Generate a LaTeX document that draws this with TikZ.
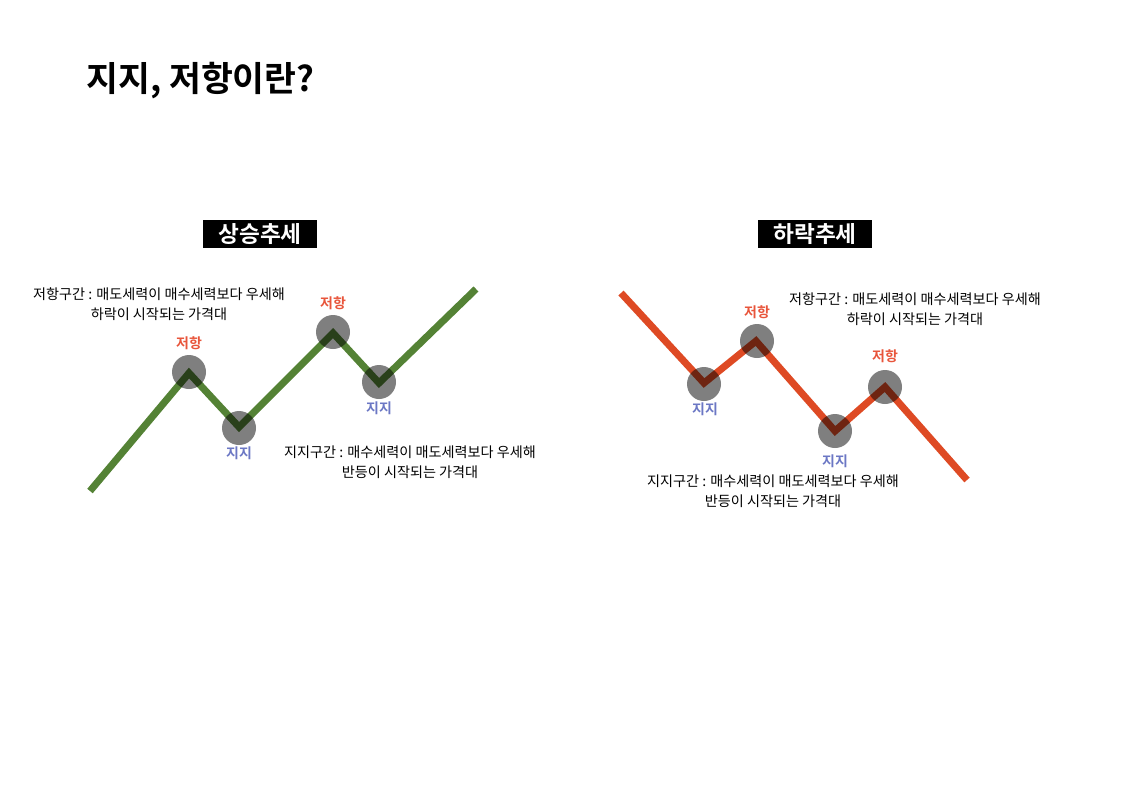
\documentclass[tikz,border=0pt]{standalone}
\usepackage{fontspec}
\setmainfont{Noto Sans CJK KR}
\newfontfamily\krbold{Noto Sans CJK KR Bold}
\definecolor{upgreen}{HTML}{548235}
\definecolor{downred}{HTML}{DE4A24}
\definecolor{reslbl}{HTML}{E8553B}
\definecolor{suplbl}{HTML}{6B77C4}
\begin{document}
\begin{tikzpicture}[x=0.75pt,y=-0.75pt,
  title/.style={font=\krbold\fontsize{26}{30}\selectfont, anchor=west, inner sep=0pt},
  trendbox/.style={fill=black, text=white, font=\krbold\fontsize{17}{20}\selectfont, minimum width=86pt, minimum height=21pt, inner sep=0pt},
  note/.style={font=\fontsize{10.6}{15}\selectfont, align=center, inner sep=0pt},
  pt/.style={circle, fill=black, fill opacity=0.5, minimum size=25.5pt, inner sep=0pt},
  reslabel/.style={font=\krbold\fontsize{10.5}{12}\selectfont, text=reslbl, inner sep=0pt},
  suplabel/.style={font=\krbold\fontsize{10.5}{12}\selectfont, text=suplbl, inner sep=0pt},
  trend/.style={line width=5.3pt, line join=miter}
]
\useasboundingbox (0,0) rectangle (1123,794);

\node[title] (ttl) at (86,81) {지지, 저항이란?};

% uptrend
\node[trendbox] (upbox) at (260,234) {상승추세};
\coordinate (u0) at (90,491);
\coordinate (u1) at (189,373);
\coordinate (u2) at (239,427);
\coordinate (u3) at (333,333);
\coordinate (u4) at (379,383);
\coordinate (u5) at (476,289);
\draw[trend, upgreen] (u0) -- (u1) -- (u2) -- (u3) -- (u4) -- (u5);
\node[pt] (uc1) at (189,372) {};
\node[pt] (uc2) at (239,428) {};
\node[pt] (uc3) at (333,332) {};
\node[pt] (uc4) at (379,382) {};
\node[reslabel] (ul1) at (189,343) {저항};
\node[suplabel] (ul2) at (239,453) {지지};
\node[reslabel] (ul3) at (333,303) {저항};
\node[suplabel] (ul4) at (379,408) {지지};
\node[note] (un1) at (159,304) {저항구간 : 매도세력이 매수세력보다 우세해\\하락이 시작되는 가격대};
\node[note] (un2) at (410,462) {지지구간 : 매수세력이 매도세력보다 우세해\\반등이 시작되는 가격대};

% downtrend
\node[trendbox] (dnbox) at (815,234) {하락추세};
\coordinate (d0) at (621,293);
\coordinate (d1) at (704,383);
\coordinate (d2) at (756,341);
\coordinate (d3) at (835,431);
\coordinate (d4) at (885,387);
\coordinate (d5) at (967,480);
\draw[trend, downred] (d0) -- (d1) -- (d2) -- (d3) -- (d4) -- (d5);
\node[pt] (dc1) at (704,384) {};
\node[pt] (dc2) at (757,341) {};
\node[pt] (dc3) at (835,431) {};
\node[pt] (dc4) at (885,387) {};
\node[suplabel] (dl1) at (705,409) {지지};
\node[reslabel] (dl2) at (757,312) {저항};
\node[suplabel] (dl3) at (835,461) {지지};
\node[reslabel] (dl4) at (885,356) {저항};
\node[note] (dn1) at (915,309) {저항구간 : 매도세력이 매수세력보다 우세해\\하락이 시작되는 가격대};
\node[note] (dn2) at (773,491) {지지구간 : 매수세력이 매도세력보다 우세해\\반등이 시작되는 가격대};
\end{tikzpicture}
\end{document}
